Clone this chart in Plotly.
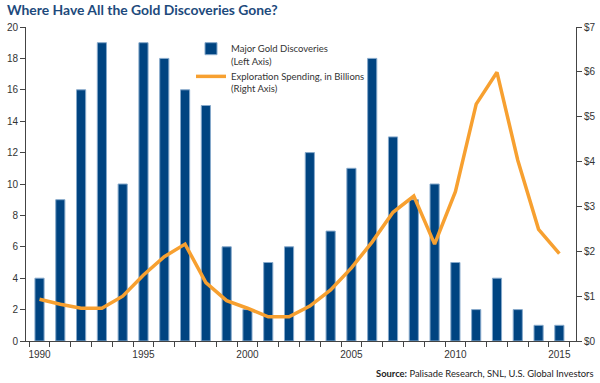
import plotly.graph_objects as go

years = list(range(1990, 2016))
discoveries = [4, 9, 16, 19, 10, 19, 18, 16, 15, 6, 2, 5, 6, 12, 7, 11, 18, 13, 9, 10, 5, 2, 4, 2, 1, 1]
spending = [0.93, 0.82, 0.73, 0.73, 1.0, 1.47, 1.88, 2.16, 1.30, 0.90, 0.73, 0.54, 0.54, 0.78,
            1.14, 1.63, 2.21, 2.87, 3.23, 2.16, 3.33, 5.28, 5.99, 4.03, 2.49, 1.95]
left_ticks = list(range(0, 21, 2))
right_ticks = list(range(0, 8))
right_labels = ["$%d" % v for v in right_ticks]
x_labels = [1990, 1995, 2000, 2005, 2010, 2015]

BLUE = "#004481"
ORANGE = "#f7a030"
TXT = "#333333"
FONT = "Lato"

fig = go.Figure()
fig.add_trace(go.Bar(
    x=years, y=discoveries, name="Major Gold Discoveries<br>(Left Axis)",
    marker=dict(color=BLUE, line=dict(color="#86a9cb", width=1)),
    width=0.44, yaxis="y"))
fig.add_trace(go.Scatter(
    x=years, y=spending, name="Exploration Spending, in Billions<br>(Right Axis)",
    mode="lines", line=dict(color=ORANGE, width=3.5), yaxis="y2"))

fig.update_layout(
    width=600, height=383,
    margin=dict(l=26, r=24, t=27, b=42, autoexpand=False),
    paper_bgcolor="white", plot_bgcolor="white",
    font=dict(family=FONT, size=10, color=TXT),
    showlegend=True,
    legend=dict(x=(199 - 26 - 8) / 550, y=1 - 9 / 314, xanchor="left", yanchor="top", valign="top",
                bgcolor="rgba(0,0,0,0)", font=dict(family=FONT, size=9.5, color=TXT),
                tracegroupgap=8, itemwidth=30),
    xaxis=dict(range=[1989.35, 2015.8], tickmode="array", tickvals=x_labels,
               ticktext=[str(v) for v in x_labels], ticks="", showgrid=False,
               showline=True, linecolor="#444", linewidth=1, zeroline=False,
               automargin=False, ticklabelstandoff=4,
               tickfont=dict(family="Liberation Sans", size=10, color=TXT),
               minor=dict(tick0=1989.5, dtick=1, ticks="outside", ticklen=5,
                          tickcolor="#444", showgrid=False)),
    yaxis=dict(range=[0, 20], tickvals=left_ticks, ticks="outside", ticklen=5,
               tickcolor="#444", showgrid=False, showline=True, linecolor="#444",
               linewidth=1, zeroline=False, automargin=False,
               tickfont=dict(family="Liberation Sans", size=10, color=TXT)),
    yaxis2=dict(range=[0, 7], tickvals=right_ticks, ticktext=right_labels,
                overlaying="y", side="right", ticks="outside", ticklen=5,
                tickcolor="#444", showgrid=False, showline=True, linecolor="#444",
                linewidth=1, zeroline=False, automargin=False,
                tickfont=dict(family="Liberation Sans", size=10, color=TXT)),
    bargap=0.5,
)

fig.add_annotation(text="<b>Where Have All the Gold Discoveries Gone?</b>",
                   xref="paper", yref="paper", x=-21/550, y=1 + 17/314,
                   xanchor="left", yanchor="middle", showarrow=False,
                   font=dict(family=FONT, size=13.9, color="#1d4a7c"))
fig.add_annotation(text="<b>Source:</b> Palisade Research, SNL, U.S. Global Investors",
                   xref="paper", yref="paper", x=1 + 20/550, y=-32/314,
                   xanchor="right", yanchor="middle", showarrow=False,
                   font=dict(family=FONT, size=9.4, color="#222"))

fig.write_html("out.html", config={"displayModeBar": False},
               post_script="document.body.style.margin='0';")
